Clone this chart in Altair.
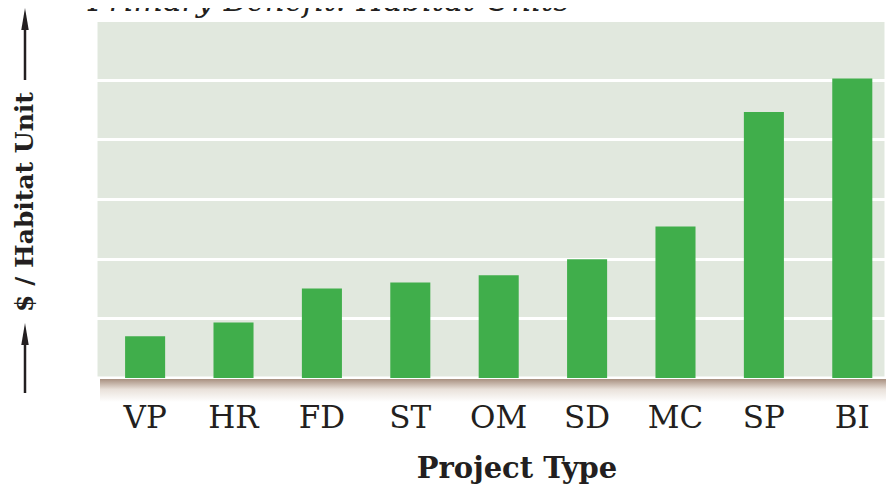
import altair as alt
import pandas as pd

# ---- data ----
categories = ["VP", "HR", "FD", "ST", "OM", "SD", "MC", "SP", "BI"]
values = [0.70, 0.93, 1.50, 1.60, 1.72, 1.99, 2.54, 4.46, 5.02]
grid_values = [0, 1, 2, 3, 4, 5, 6]
title_text = "Primary Benefit: Habitat Units"
x_title = "Project Type"
y_title = "$ / Habitat Unit"

df = pd.DataFrame({"type": categories, "value": values})
one = pd.DataFrame({"k": [0]})

W, H = 790, 358
FONT = "DejaVu Serif"
INK = "#231f20"
BAR = "#40ae4b"
BG = "#e1e8de"

x_enc = alt.X(
    "type:N",
    sort=categories,
    scale=alt.Scale(paddingInner=0.547, paddingOuter=0.242, align=0.68),
    axis=alt.Axis(
        title=None, labelFont=FONT, labelFontSize=31, labelColor=INK,
        labelAngle=0, ticks=False, tickSize=0, domain=False, grid=False,
        labelPadding=49, labelBaseline="alphabetic",
    ),
)
y_enc = alt.Y(
    "value:Q",
    scale=alt.Scale(domain=[0, 6], nice=False, zero=True),
    axis=alt.Axis(
        title=None, labels=False, ticks=False, domain=False, grid=True,
        gridColor="white", gridWidth=3, gridOpacity=1, values=grid_values,
    ),
)

bars = alt.Chart(df).mark_bar(color=BAR).encode(x=x_enc, y=y_enc)

shadow = alt.Chart(one).mark_rect(
    color=alt.Gradient(
        gradient="linear",
        stops=[alt.GradientStop(color="#a89080", offset=0),
               alt.GradientStop(color="#e9e1da", offset=0.45),
               alt.GradientStop(color="#ffffff", offset=1)],
        x1=0, x2=0, y1=0, y2=1,
    )
).encode(x=alt.value(4), x2=alt.value(W), y=alt.value(H + 1), y2=alt.value(H + 24))

top_title = alt.Chart(pd.DataFrame({"t": [title_text]})).mark_text(
    font=FONT, fontSize=31, fontStyle="italic", color=INK,
    align="left", baseline="alphabetic",
).encode(text="t:N", x=alt.value(-8), y=alt.value(-9))

xt = alt.Chart(pd.DataFrame({"t": [x_title]})).mark_text(
    font=FONT, fontSize=29, fontWeight="bold", color=INK,
    align="center", baseline="alphabetic",
).encode(text="t:N", x=alt.value(421), y=alt.value(458))

yt = alt.Chart(pd.DataFrame({"t": [y_title]})).mark_text(
    font=FONT, fontSize=25, fontWeight="bold", color=INK,
    align="center", baseline="middle", angle=270,
).encode(text="t:N", x=alt.value(-71), y=alt.value(182))

AX = -71
rule_top = alt.Chart(one).mark_rule(color=INK, strokeWidth=2.5).encode(
    x=alt.value(AX), y=alt.value(0), y2=alt.value(60))
rule_bot = alt.Chart(one).mark_rule(color=INK, strokeWidth=2.5).encode(
    x=alt.value(AX), y=alt.value(314), y2=alt.value(373))
head_shape = "M0,-1L0.34,1L-0.34,1Z"
head_top = alt.Chart(one).mark_point(
    shape=head_shape, filled=True, size=480, color=INK, opacity=1, strokeWidth=0
).encode(x=alt.value(AX), y=alt.value(-1))
head_bot = alt.Chart(one).mark_point(
    shape=head_shape, filled=True, size=480, color=INK, opacity=1, strokeWidth=0
).encode(x=alt.value(AX), y=alt.value(314))

chart = alt.layer(
    shadow, bars, top_title, xt, yt, rule_top, rule_bot, head_top, head_bot
).properties(
    width=W, height=H,
    autosize=alt.AutoSizeParams(type="none"),
    padding={"left": 88, "top": 12, "right": 0, "bottom": 110},
    background="white",
).configure_view(fill=BG, stroke="white", strokeWidth=3)

chart.save("out.html", embed_options={"renderer": "svg", "actions": False})
